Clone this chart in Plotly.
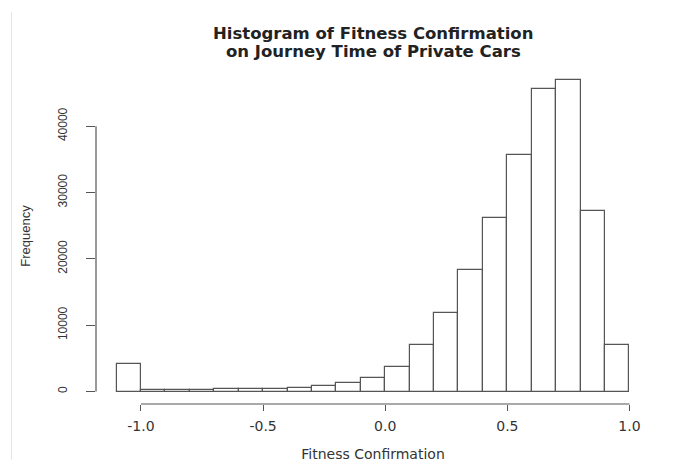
import plotly.graph_objects as go

# Histogram bins (left edges) and frequencies
bin_left = [-1.1, -1.0, -0.9, -0.8, -0.7, -0.6, -0.5, -0.4, -0.3, -0.2, -0.1,
            0.0, 0.1, 0.2, 0.3, 0.4, 0.5, 0.6, 0.7, 0.8, 0.9]
bin_width = 0.1
frequency = [4170, 200, 250, 300, 350, 400, 450, 600, 850, 1300, 2000,
             3700, 6950, 11850, 18350, 26150, 35700, 45550, 46900, 27150, 6950]

x_ticks = [-1.0, -0.5, 0.0, 0.5, 1.0]
x_tick_labels = ["-1.0", "-0.5", "0.0", "0.5", "1.0"]
y_ticks = [0, 10000, 20000, 30000, 40000]
y_tick_labels = ["0", "10000", "20000", "30000", "40000"]
title_lines = ["Histogram of Fitness Confirmation", "on Journey Time of Private Cars"]

line_col = "#555555"
text_col = "#333333"
wide_font = "DejaVu Sans, Verdana, sans-serif"
narrow_font = "Liberation Sans, Arial, Helvetica, sans-serif"

# the page body adds an 8px margin, so the figure is sized to fit the window
BODY = 8
W, H = 680 - BODY, 469 - BODY
ML, MT = 96 - BODY, 68 - BODY
MR = W - (650 - BODY)
MB = H - (404.4 - BODY)
pw = W - ML - MR
ph = H - MT - MB


def py(abs_y):
    """window pixel row -> paper y"""
    return (H - MB - (abs_y - BODY)) / ph


def px(abs_x):
    """window pixel column -> paper x"""
    return (abs_x - BODY - ML) / pw


fig = go.Figure()
fig.add_trace(go.Bar(
    x=bin_left,
    y=frequency,
    width=[bin_width] * len(bin_left),
    offset=0,
    marker=dict(color="white", line=dict(color=line_col, width=1.2)),
    hoverinfo="x+y",
))

x_lo = min(bin_left)
x_hi = max(bin_left) + bin_width
x_pad = 0.04 * (x_hi - x_lo)
y_hi = max(frequency)
y_pad = 0.04 * y_hi

fig.update_layout(
    width=W, height=H,
    paper_bgcolor="white", plot_bgcolor="white",
    margin=dict(l=ML, r=MR, t=MT, b=MB, autoexpand=False),
    showlegend=False,
    bargap=0,
    font=dict(family=narrow_font, color=text_col, size=12),
    xaxis=dict(
        range=[x_lo - x_pad, x_hi + x_pad],
        tickvals=x_ticks, ticktext=x_tick_labels,
        ticks="outside", ticklen=6, tickwidth=1.2, tickcolor=line_col,
        showline=False, showgrid=False, zeroline=False, automargin=False,
        tickfont=dict(size=14, family=wide_font, color=text_col),
        ticklabelstandoff=3,
        title=dict(text="Fitness Confirmation",
                   font=dict(size=14, family=wide_font, color=text_col), standoff=16),
    ),
    yaxis=dict(
        range=[-y_pad, y_hi + y_pad],
        tickvals=y_ticks, ticktext=y_tick_labels, tickangle=-90,
        ticks="outside", ticklen=9, tickwidth=1.2, tickcolor=line_col,
        showline=False, showgrid=False, zeroline=False, automargin=False,
        tickfont=dict(size=12, family=narrow_font, color=text_col),
        ticklabelstandoff=14,
        title=dict(text="Frequency",
                   font=dict(size=13, family=narrow_font, color=text_col), standoff=22),
    ),
)

# two-line bold title with R-like tight line spacing
for line, row in zip(title_lines, [32.5, 50.5]):
    fig.add_annotation(text="<b>" + line + "</b>", xref="paper", yref="paper",
                       x=0.5, y=py(row), xanchor="center", yanchor="middle",
                       height=18, valign="middle", showarrow=False,
                       font=dict(size=16.5, family=wide_font, color="#222222"))

# R-style detached axis lines spanning the tick range
fig.add_shape(type="line", xref="x", yref="paper",
              x0=min(x_ticks), x1=max(x_ticks), y0=0, y1=0,
              line=dict(color=line_col, width=1.2))
fig.add_shape(type="line", xref="paper", yref="y",
              x0=0, x1=0, y0=min(y_ticks), y1=max(y_ticks),
              line=dict(color=line_col, width=1.2))

# faint frame edge at the left of the reference image
fig.add_shape(type="line", xref="paper", yref="paper",
              x0=px(11.5), x1=px(11.5), y0=py(460), y1=py(12),
              line=dict(color="#e4e4e4", width=1))

fig.write_html("out.html")
